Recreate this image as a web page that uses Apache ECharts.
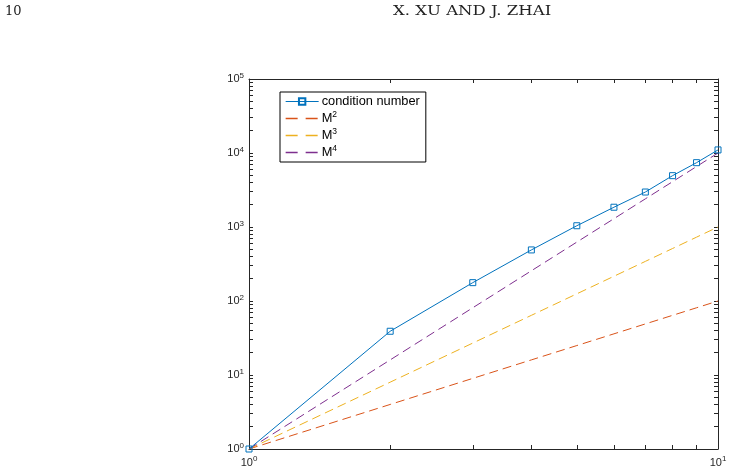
<!DOCTYPE html>
<html>
<head>
<meta charset="utf-8">
<style>
  html, body { margin: 0; padding: 0; background: #fff; }
  #chart { width: 731px; height: 474px; }
</style>
<script src="https://cdn.jsdelivr.net/npm/echarts@6/dist/echarts.min.js"></script>
</head>
<body>
<div id="chart"></div>
<script>
// M values on the x axis
var mValues = [1, 2, 3, 4, 5, 6, 7, 8, 9, 10]
var condNumber = [1, 39, 177, 490, 1040, 1850, 2970, 4940, 7400, 11000]
// reference curves
var m2 = [1, 4, 9, 16, 25, 36, 49, 64, 81, 100]
var m3 = [1, 8, 27, 64, 125, 216, 343, 512, 729, 1000]
var m4 = [1, 16, 81, 256, 625, 1296, 2401, 4096, 6561, 10000]

var xMajor = [1, 10]
var xMinor = [1, 2, 3, 4, 5, 6, 7, 8, 9, 10]
var yMajor = [1, 10, 100, 1000, 10000, 100000]
var yMinor = (function () {
  var res = []
  for (var d = 0; d < 5; d++) {
    for (var k = 1; k <= 9; k++) res.push(k * Math.pow(10, d))
  }
  res.push(100000)
  return res
})()

var seriesNames = ['condition number', 'M2', 'M3', 'M4']
var colors = ['#0072BD', '#D95319', '#EDB120', '#7E2F8E']

function pair(ys) {
  return mValues.map(function (x, i) { return [x, ys[i]] })
}
function powLabel(v) {
  return '10{sup|' + Math.round(Math.log10(v)) + '}'
}

var axisColor = '#262626'
var labelRich = {
  sup: { fontSize: 8, color: axisColor, padding: [0, 0, 7, 0], fontFamily: 'Liberation Sans' }
}

function xAxisCfg(pos, showLabel) {
  return {
    type: 'log', logBase: 10, min: 1, max: 10, position: pos,
    axisLine: { show: true, onZero: false, lineStyle: { color: axisColor, width: 1 } },
    axisTick: { show: true, inside: true, length: 4, customValues: xMinor, lineStyle: { color: axisColor } },
    axisLabel: {
      show: showLabel, customValues: xMajor, formatter: powLabel, margin: 6,
      color: axisColor, fontSize: 11, fontFamily: 'Liberation Sans', rich: labelRich
    },
    splitLine: { show: false }, minorTick: { show: false }
  }
}
function yAxisCfg(pos, showLabel) {
  return {
    type: 'log', logBase: 10, min: 1, max: 100000, position: pos,
    axisLine: { show: true, onZero: false, lineStyle: { color: axisColor, width: 1 } },
    axisTick: { show: true, inside: true, length: 4, customValues: yMinor, lineStyle: { color: axisColor } },
    axisLabel: {
      show: showLabel, customValues: yMajor, formatter: powLabel, margin: 5,
      color: axisColor, fontSize: 11, fontFamily: 'Liberation Sans', rich: labelRich
    },
    splitLine: { show: false }, minorTick: { show: false }
  }
}

var legendDash = [12, 8]

var chart = echarts.init(document.getElementById('chart'))
var option = {
  animation: false,
  backgroundColor: '#fff',
  grid: { left: 249, right: 13, top: 79, bottom: 25, containLabel: false },
  graphic: [
    { type: 'text', x: 5, y: 5, style: { text: '10', fontSize: 13, fontFamily: 'DejaVu Serif', fill: '#222' } },
    { type: 'text', x: 393, y: 5, scaleX: 1.27, style: { text: 'X. XU AND J. ZHAI', fontSize: 13, fontFamily: 'DejaVu Serif', fill: '#222' } }
  ],
  legend: {
    orient: 'vertical',
    left: 280, top: 92,
    padding: [3, 6, 3, 5],
    itemGap: 2,
    itemWidth: 33, itemHeight: 8,
    borderColor: '#000', borderWidth: 1, borderRadius: 0,
    backgroundColor: '#fff',
    data: [
      { name: seriesNames[0], lineStyle: { width: 1.2, color: colors[0] } },
      { name: seriesNames[1], lineStyle: { width: 1.3, color: colors[1], type: legendDash } },
      { name: seriesNames[2], lineStyle: { width: 1.3, color: colors[2], type: legendDash } },
      { name: seriesNames[3], lineStyle: { width: 1.3, color: colors[3], type: legendDash } }
    ],
    formatter: function (name) {
      if (name.charAt(0) === 'M') return 'M{sup|' + name.charAt(1) + '}'
      return name
    },
    textStyle: {
      fontSize: 12.8, color: '#000', fontFamily: 'Liberation Sans', padding: [0, 0, 0, -2],
      rich: { sup: { fontSize: 8.5, color: '#000', padding: [0, 0, 8, 0], fontFamily: 'Liberation Sans' } }
    }
  },
  xAxis: [xAxisCfg('bottom', true), xAxisCfg('top', false)],
  yAxis: [yAxisCfg('left', true), yAxisCfg('right', false)],
  series: [
    {
      name: seriesNames[0], type: 'line', data: pair(condNumber),
      symbol: 'rect', symbolSize: 6, showSymbol: true,
      lineStyle: { color: colors[0], width: 1 },
      itemStyle: { color: 'transparent', borderColor: colors[0], borderWidth: 1 },
      z: 5
    },
    {
      name: seriesNames[1], type: 'line', data: pair(m2), symbol: 'none',
      lineStyle: { color: colors[1], width: 1, type: [9, 5] },
      itemStyle: { color: 'transparent', borderWidth: 0 }
    },
    {
      name: seriesNames[2], type: 'line', data: pair(m3), symbol: 'none',
      lineStyle: { color: colors[2], width: 1, type: [9, 5] },
      itemStyle: { color: 'transparent', borderWidth: 0 }
    },
    {
      name: seriesNames[3], type: 'line', data: pair(m4), symbol: 'none',
      lineStyle: { color: colors[3], width: 1, type: [9, 5] },
      itemStyle: { color: 'transparent', borderWidth: 0 }
    }
  ]
}
chart.setOption(option)
</script>
</body>
</html>
